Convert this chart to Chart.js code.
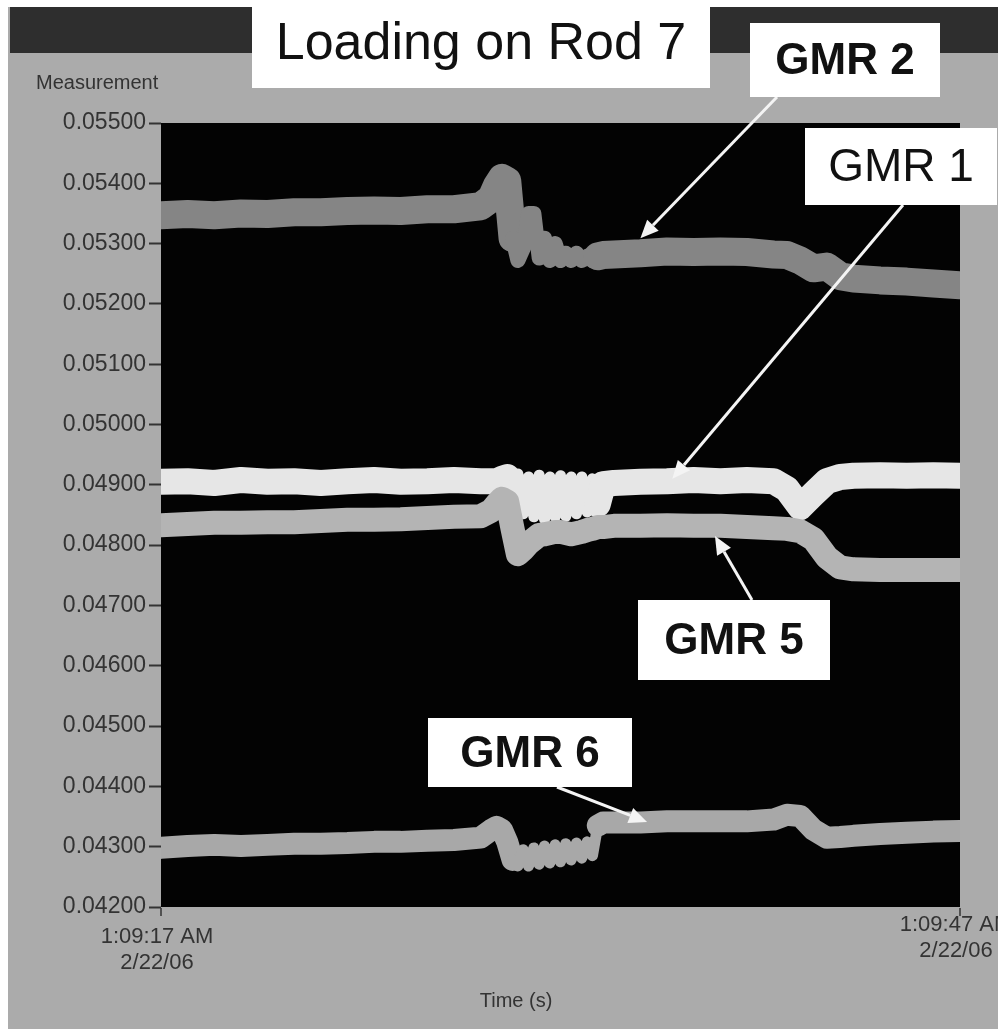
<!DOCTYPE html>
<html>
<head>
<meta charset="utf-8">
<title>Loading on Rod 7</title>
<script src="https://cdn.jsdelivr.net/npm/chart.js@4.4.1/dist/chart.umd.min.js"></script>
<style>
  body { margin: 0; background: #ffffff; }
  canvas { display: block; }
</style>
</head>
<body>
<canvas id="graficoGMR" width="998" height="1029"></canvas>
<script>
// tempo em segundos desde 1:09:17 AM
const tempos = [0, 1, 2, 3, 4, 5, 6, 7, 8, 9, 10, 11, 12,
  12.4, 12.6, 12.8, 13.0, 13.2, 13.4, 13.6, 13.8, 14.0, 14.2, 14.4,
  14.6, 14.8, 15.0, 15.2, 15.4, 15.6, 15.8, 16.0, 16.2, 16.4, 16.6,
  17, 18, 19, 20, 21, 22, 23,
  23.5, 24, 24.5, 25, 25.5,
  26, 27, 28, 29, 30];

const gmr2 = [0.05347, 0.05349, 0.05347, 0.05350, 0.05349, 0.05352, 0.05352, 0.05354, 0.05355, 0.05354, 0.05357, 0.05357, 0.05362,
  0.05375, 0.05395, 0.05409, 0.05404, 0.05309, 0.05272, 0.05292, 0.05350, 0.05350, 0.05276, 0.05309,
  0.05272, 0.05300, 0.05272, 0.05284, 0.05272, 0.05284, 0.05272, 0.05279, 0.05272, 0.05279, 0.05281,
  0.05282, 0.05284, 0.05287, 0.05286, 0.05287, 0.05286, 0.05282,
  0.05281, 0.05272, 0.05259, 0.05262, 0.05246,
  0.05242, 0.05239, 0.05237, 0.05234, 0.05231];

const gmr1 = [0.04905, 0.04906, 0.04903, 0.04908, 0.04905, 0.04906, 0.04903, 0.04906, 0.04908, 0.04905, 0.04906, 0.04908, 0.04906,
  0.04906, 0.04906, 0.04910, 0.04913, 0.04893, 0.04918, 0.04852, 0.04913, 0.04847, 0.04916, 0.04843,
  0.04913, 0.04847, 0.04915, 0.04848, 0.04913, 0.04852, 0.04913, 0.04855, 0.04910, 0.04868, 0.04901,
  0.04903, 0.04905, 0.04906, 0.04908, 0.04906, 0.04908, 0.04906,
  0.04893, 0.04863, 0.04885, 0.04906, 0.04913,
  0.04915, 0.04916, 0.04915, 0.04916, 0.04915];

const gmr5 = [0.04833, 0.04835, 0.04837, 0.04837, 0.04838, 0.04838, 0.04840, 0.04842, 0.04842, 0.04843, 0.04845, 0.04847, 0.04848,
  0.04857, 0.04868, 0.04877, 0.04872, 0.04827, 0.04785, 0.04793, 0.04803, 0.04810, 0.04817, 0.04818,
  0.04820, 0.04822, 0.04822, 0.04820, 0.04818, 0.04820, 0.04822, 0.04825, 0.04827, 0.04830, 0.04830,
  0.04832, 0.04832, 0.04833, 0.04832, 0.04832, 0.04830, 0.04828,
  0.04827, 0.04823, 0.04810, 0.04780, 0.04763,
  0.04760, 0.04759, 0.04759, 0.04759, 0.04759];

const gmr6 = [0.04298, 0.04301, 0.04303, 0.04301, 0.04303, 0.04305, 0.04305, 0.04306, 0.04308, 0.04308, 0.04310, 0.04311, 0.04315,
  0.04328, 0.04333, 0.04328, 0.04308, 0.04278, 0.04268, 0.04295, 0.04268, 0.04298, 0.04271, 0.04301,
  0.04273, 0.04303, 0.04275, 0.04305, 0.04278, 0.04306, 0.04281, 0.04308, 0.04285, 0.04335, 0.04340,
  0.04340, 0.04340, 0.04342, 0.04342, 0.04342, 0.04342, 0.04345,
  0.04353, 0.04351, 0.04328, 0.04315, 0.04316,
  0.04318, 0.04321, 0.04323, 0.04325, 0.04326];

// etiquetas do eixo do tempo
const etiquetasTempo = [['1:09:17 AM', '2/22/06'], ['1:09:47 AM', '2/22/06']];

const FONTE = "'Liberation Sans', Arial, sans-serif";

function pontos(valores) {
  return valores.map((v, i) => ({ x: tempos[i], y: v }));
}

// traço mais fino na zona de oscilação
function larguraSegmento(grossa, fina) {
  return ctx => (ctx.p0.parsed.x >= 13.1 && ctx.p1.parsed.x <= 16.5) ? fina : grossa;
}

function desenhaSeta(ctx, x0, y0, x1, y1) {
  const ang = Math.atan2(y1 - y0, x1 - x0);
  const comp = 18, larg = 8;
  const bx = x1 - comp * Math.cos(ang), by = y1 - comp * Math.sin(ang);
  ctx.strokeStyle = '#f4f4f4';
  ctx.lineWidth = 3;
  ctx.beginPath();
  ctx.moveTo(x0, y0);
  ctx.lineTo(bx, by);
  ctx.stroke();
  ctx.fillStyle = '#f4f4f4';
  ctx.beginPath();
  ctx.moveTo(x1, y1);
  ctx.lineTo(bx + larg * Math.sin(ang), by - larg * Math.cos(ang));
  ctx.lineTo(bx - larg * Math.sin(ang), by + larg * Math.cos(ang));
  ctx.closePath();
  ctx.fill();
}

function caixa(ctx, x, y, w, h, texto, fonte) {
  ctx.fillStyle = '#ffffff';
  ctx.fillRect(x, y, w, h);
  ctx.fillStyle = '#111111';
  ctx.font = fonte;
  ctx.textAlign = 'center';
  ctx.textBaseline = 'middle';
  ctx.fillText(texto, x + w / 2, y + h / 2 + 2);
}

const fundoPlugin = {
  id: 'fundo',
  beforeDraw(chart) {
    const ctx = chart.ctx;
    const a = chart.chartArea;
    ctx.save();
    ctx.fillStyle = '#ffffff';
    ctx.fillRect(0, 0, chart.width, chart.height);
    ctx.fillStyle = '#ababab';
    ctx.fillRect(8, 7, chart.width - 8, chart.height - 7);
    ctx.fillStyle = '#2e2e2e';
    ctx.fillRect(10, 7, chart.width - 10, 46);
    ctx.fillStyle = '#030303';
    ctx.fillRect(a.left, a.top, a.right - a.left, a.bottom - a.top);
    ctx.restore();
  }
};

const anotacoesPlugin = {
  id: 'anotacoes',
  afterDraw(chart) {
    const ctx = chart.ctx;
    const sx = chart.scales.x, sy = chart.scales.y;
    ctx.save();

    // titulo do eixo y
    ctx.fillStyle = '#333333';
    ctx.font = '20px ' + FONTE;
    ctx.textAlign = 'left';
    ctx.textBaseline = 'middle';
    ctx.fillText('Measurement', 36, 83);

    // marcas e etiquetas do eixo do tempo
    ctx.strokeStyle = '#333333';
    ctx.lineWidth = 1.5;
    ctx.font = '22px ' + FONTE;
    ctx.textAlign = 'center';
    [0, 30].forEach((t, i) => {
      const px = sx.getPixelForValue(t);
      ctx.beginPath();
      ctx.moveTo(px, sy.bottom + 1);
      ctx.lineTo(px, sy.bottom + 9);
      ctx.stroke();
      const y0 = i === 0 ? 937 : 925;
      ctx.fillText(etiquetasTempo[i][0], px - 4, y0);
      ctx.fillText(etiquetasTempo[i][1], px - 4, y0 + 26);
    });
    ctx.font = '20px ' + FONTE;
    ctx.fillText('Time (s)', 516, 1001);

    // setas a apontar para as curvas
    desenhaSeta(ctx, 777, 97, sx.getPixelForValue(18), sy.getPixelForValue(0.05309));
    desenhaSeta(ctx, 903, 205, sx.getPixelForValue(19.2), sy.getPixelForValue(0.0491));
    desenhaSeta(ctx, 752, 600, sx.getPixelForValue(20.8), sy.getPixelForValue(0.04815));
    desenhaSeta(ctx, 557, 787, sx.getPixelForValue(18.25), sy.getPixelForValue(0.04341));

    // caixas de texto
    caixa(ctx, 252, -2, 458, 90, 'Loading on Rod 7', '52px ' + FONTE);
    caixa(ctx, 750, 23, 190, 74, 'GMR 2', 'bold 44px ' + FONTE);
    caixa(ctx, 805, 128, 192, 77, 'GMR 1', '46px ' + FONTE);
    caixa(ctx, 638, 600, 192, 80, 'GMR 5', 'bold 44px ' + FONTE);
    caixa(ctx, 428, 718, 204, 69, 'GMR 6', 'bold 44px ' + FONTE);

    ctx.restore();
  }
};

const ctx = document.getElementById('graficoGMR').getContext('2d');

new Chart(ctx, {
  type: 'line',
  data: {
    datasets: [
      {
        label: 'GMR 2',
        data: pontos(gmr2),
        borderColor: '#858585',
        borderWidth: 28,
        segment: { borderWidth: larguraSegmento(28, 15) }
      },
      {
        label: 'GMR 5',
        data: pontos(gmr5),
        borderColor: '#b4b4b4',
        borderWidth: 24
      },
      {
        label: 'GMR 6',
        data: pontos(gmr6),
        borderColor: '#a8a8a8',
        borderWidth: 22,
        segment: { borderWidth: larguraSegmento(22, 11) }
      },
      {
        label: 'GMR 1',
        data: pontos(gmr1),
        borderColor: '#e6e6e6',
        borderWidth: 26,
        segment: { borderWidth: larguraSegmento(26, 11) }
      }
    ]
  },
  options: {
    responsive: false,
    animation: false,
    layout: { padding: { top: 123, right: 38, left: 0, bottom: 0 } },
    elements: {
      point: { radius: 0 },
      line: { tension: 0, borderJoinStyle: 'round', borderCapStyle: 'round' }
    },
    plugins: {
      legend: { display: false },
      tooltip: { enabled: false }
    },
    scales: {
      x: {
        type: 'linear',
        min: 0,
        max: 30,
        ticks: { display: false },
        grid: { display: false },
        border: { display: false },
        afterFit: scale => { scale.height = 122; }
      },
      y: {
        min: 0.042,
        max: 0.055,
        ticks: {
          stepSize: 0.001,
          color: '#333333',
          padding: 3,
          font: { family: FONTE, size: 23 },
          callback: v => v.toFixed(5)
        },
        grid: {
          drawOnChartArea: false,
          drawTicks: true,
          tickLength: 12,
          tickColor: '#333333',
          tickWidth: 2
        },
        border: { display: false },
        afterFit: scale => { scale.width = 161; }
      }
    }
  },
  plugins: [fundoPlugin, anotacoesPlugin]
});
</script>
</body>
</html>
